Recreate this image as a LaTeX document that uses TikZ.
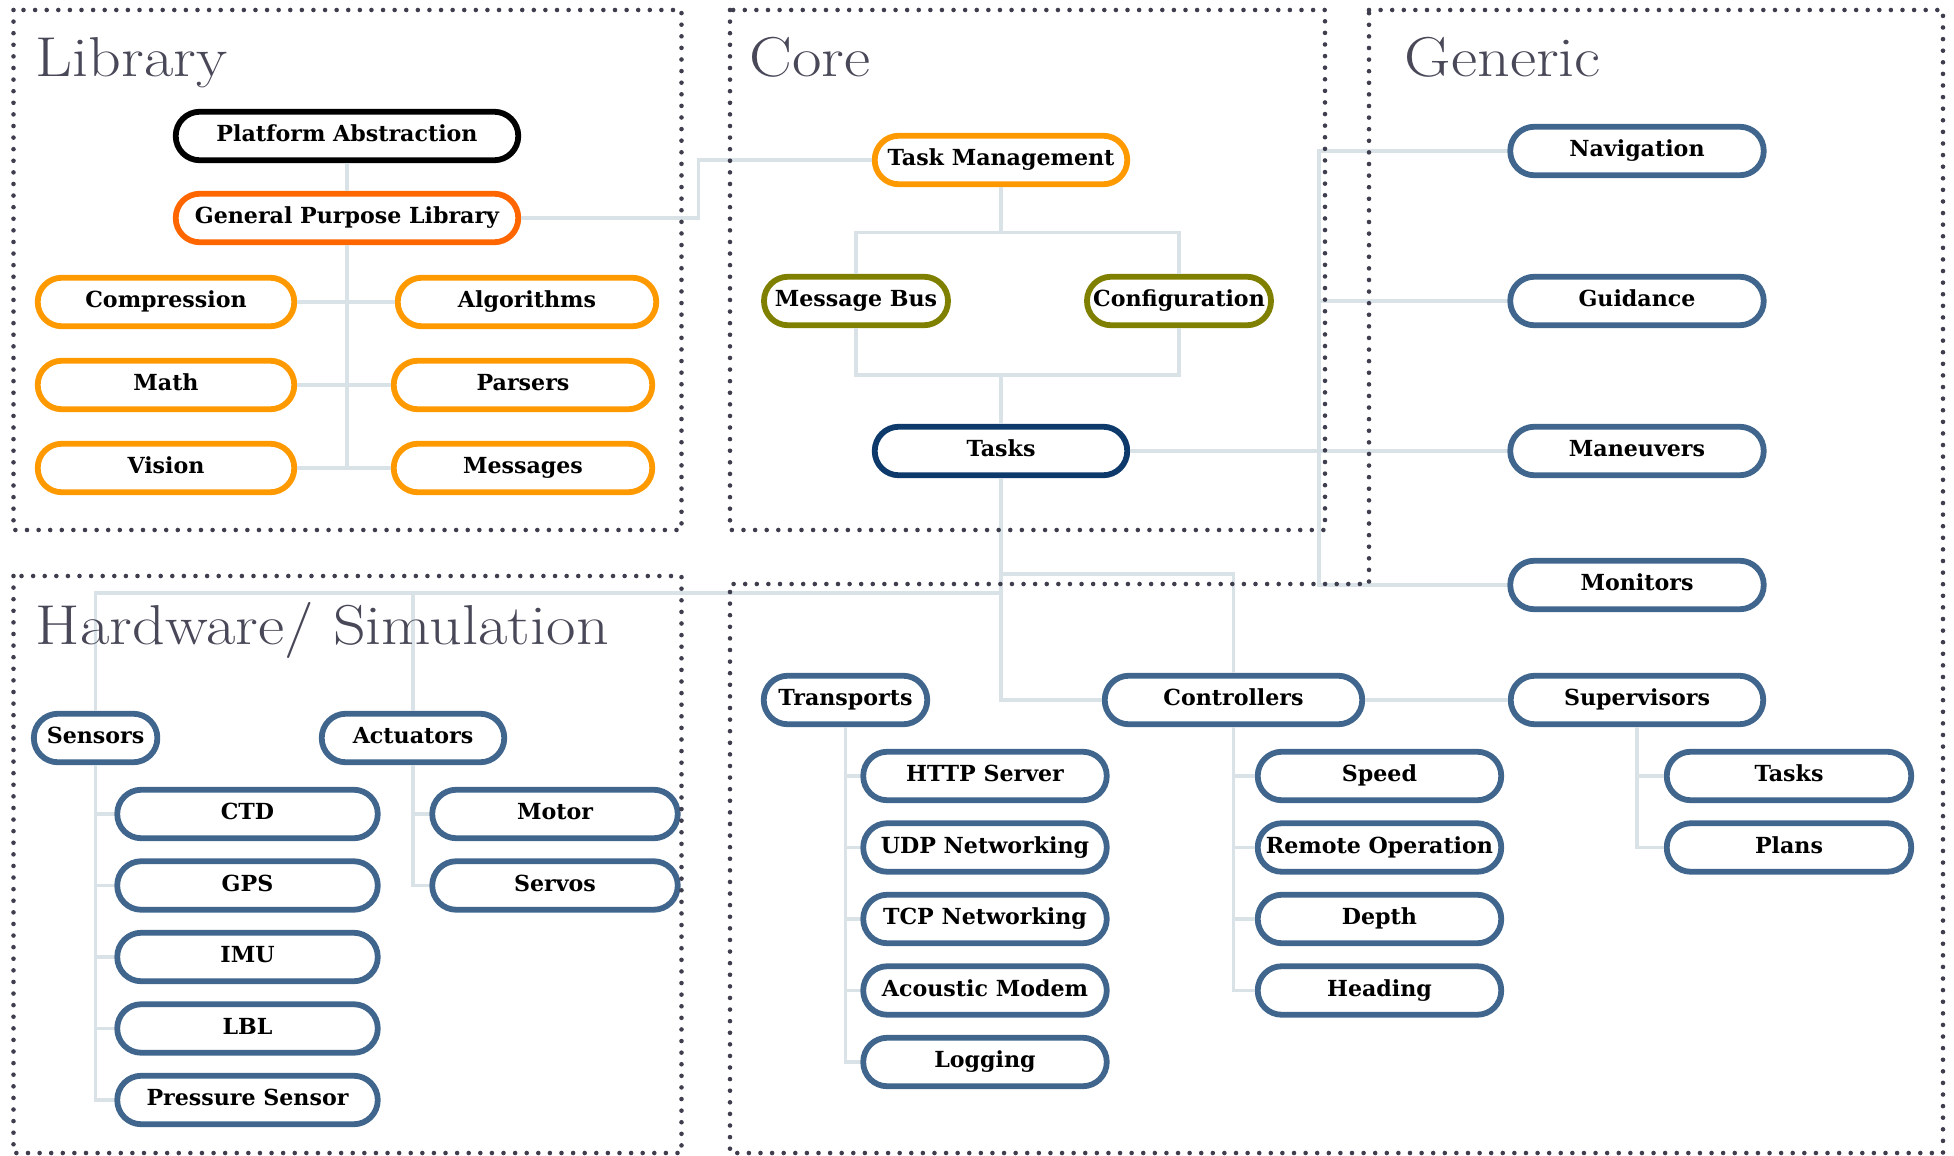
\documentclass[tikz,border=0pt]{standalone}
\usepackage{fontspec}
\newfontfamily\boxfont{DejaVu Serif}
\newfontfamily\titlefont{lmroman17-regular.otf}[FakeStretch=1.14]
\definecolor{myorange}{RGB}{255,153,0}
\definecolor{myredorange}{RGB}{255,102,0}
\definecolor{myolive}{RGB}{128,128,0}
\definecolor{mynavy}{RGB}{14,57,107}
\definecolor{myblue}{RGB}{64,102,142}
\definecolor{mylink}{RGB}{216,226,231}
\definecolor{mydots}{RGB}{62,62,78}
\definecolor{mytitle}{RGB}{72,72,88}
\newcommand{\modfont}{\boxfont\bfseries\fontsize{6.3}{7.5}\selectfont}
\tikzset{
  module/.style={
    draw,
    rectangle,
    rounded corners=2.4mm,
    line width=1.65pt,
    fill=white,
    minimum height=4.85mm,
    inner xsep=1pt,
    inner ysep=0pt,
    text height=1.6mm,
    text depth=0.45mm,
    font=\modfont
  },
  libmodule/.style={
    module,
    draw=myorange
  },
  genmodule/.style={
    module,
    draw=myblue
  },
  link/.style={
    draw=mylink,
    line width=0.9pt
  },
  region/.style={
    draw=mydots,
    line width=1.3pt,
    dash pattern=on 0pt off 3.3pt,
    line cap=round
  },
  regiontitle/.style={
    anchor=base west,
    inner sep=0pt,
    text=mytitle,
    font=\titlefont\fontsize{16}{18}\selectfont
  }
}

\begin{document}
\begin{tikzpicture}[x=0.1mm,y=-0.1mm]
\useasboundingbox (0,0) rectangle (1954,1156);

% library
\node[module, draw=black, minimum width=34.25mm] (platform) at (347,136) {Platform Abstraction};
\node[module, draw=myredorange, minimum width=34.25mm] (gpl) at (347,218) {General Purpose Library};
\node[libmodule, minimum width=25.65mm] (compression) at (166,302) {Compression};
\node[libmodule, minimum width=25.85mm] (algorithms) at (527,302) {Algorithms};
\node[libmodule, minimum width=25.65mm] (math) at (166,385) {Math};
\node[libmodule, minimum width=25.85mm] (parsers) at (523,385) {Parsers};
\node[libmodule, minimum width=25.65mm] (vision) at (166,468) {Vision};
\node[libmodule, minimum width=25.85mm] (messages) at (523,468) {Messages};

% core
\node[module, draw=myorange, minimum width=25.25mm] (taskmgmt) at (1001,160) {Task Management};
\node[module, draw=myolive, minimum width=18.4mm] (msgbus) at (856,301) {Message Bus};
\node[module, draw=myolive, minimum width=18.4mm] (config) at (1179,301) {Configuration};
\node[module, draw=mynavy, minimum width=25.25mm] (tasks) at (1001,451) {Tasks};

% generic
\node[genmodule, minimum width=25.35mm] (nav) at (1637,151) {Navigation};
\node[genmodule, minimum width=25.35mm] (guid) at (1637,301) {Guidance};
\node[genmodule, minimum width=25.35mm] (maneuv) at (1637,451) {Maneuvers};
\node[genmodule, minimum width=25.35mm] (monit) at (1637,585) {Monitors};

\node[genmodule, minimum width=16.35mm] (transp) at (845.5,700) {Transports};
\node[genmodule, minimum width=25.75mm] (ctrl) at (1233.5,700) {Controllers};
\node[genmodule, minimum width=25.25mm] (superv) at (1637,700) {Supervisors};

\node[genmodule, minimum width=24.35mm] (http) at (985,776) {HTTP Server};
\node[genmodule, minimum width=24.35mm] (udp) at (985,847.5) {UDP Networking};
\node[genmodule, minimum width=24.35mm] (tcp) at (985,919) {TCP Networking};
\node[genmodule, minimum width=24.35mm] (acoustic) at (985,990.5) {Acoustic Modem};
\node[genmodule, minimum width=24.35mm] (logging) at (985,1062) {Logging};

\node[genmodule, minimum width=24.35mm] (speed) at (1379.5,776) {Speed};
\node[genmodule, minimum width=24.35mm] (remote) at (1379.5,847.5) {Remote Operation};
\node[genmodule, minimum width=24.35mm] (depth) at (1379.5,919) {Depth};
\node[genmodule, minimum width=24.35mm] (heading) at (1379.5,990.5) {Heading};

\node[genmodule, minimum width=24.45mm] (stasks) at (1789,776) {Tasks};
\node[genmodule, minimum width=24.45mm] (plans) at (1789,847.5) {Plans};

% hardware / simulation
\node[genmodule, minimum width=12.35mm] (sensors) at (95.6,738) {Sensors};
\node[genmodule, minimum width=18.25mm] (actuators) at (413,738) {Actuators};
\node[genmodule, minimum width=26.05mm] (ctd) at (247.5,814) {CTD};
\node[genmodule, minimum width=26.05mm] (gps) at (247.5,885.5) {GPS};
\node[genmodule, minimum width=26.05mm] (imu) at (247.5,957) {IMU};
\node[genmodule, minimum width=26.05mm] (lbl) at (247.5,1028.5) {LBL};
\node[genmodule, minimum width=26.05mm] (pressure) at (247.5,1100) {Pressure Sensor};
\node[genmodule, minimum width=24.55mm] (motor) at (555,814) {Motor};
\node[genmodule, minimum width=24.55mm] (servos) at (555,885.5) {Servos};

% links
\draw[link] (platform.south) -- (gpl.north);
\draw[link] (gpl.south) -- (gpl.south |- vision.east);
\draw[link] (compression.east) -- (algorithms.west);
\draw[link] (math.east) -- (parsers.west);
\draw[link] (vision.east) -- (messages.west);
\draw[link] (gpl.east) -- ++(177,0) |- (taskmgmt.west);

\draw[link] (taskmgmt.south) -- ++(0,45) coordinate (tmsplit) -| (msgbus.north);
\draw[link] (tmsplit) -| (config.north);
\coordinate (tmerge) at (1001,375);
\draw[link] (msgbus.south) |- (tmerge) -| (config.south);
\draw[link] (tmerge) -- (tasks.north);

\coordinate (genbus) at (1319,0);
\coordinate (ctrlbus) at (0,574);
\coordinate (hwbus) at (0,593);
\draw[link] (nav.west) -| (genbus |- monit.west) -- (monit.west);
\draw[link] (guid.west) -- (guid.west -| genbus);
\draw[link] (tasks.east) -- (maneuv.west);
\draw[link] (tasks.south) |- (ctrl.west);
\draw[link] (tasks.south |- ctrlbus) -| (ctrl.north);
\draw[link] (sensors.north) |- (tasks.south |- hwbus);
\draw[link] (actuators.north) |- (tasks.south |- hwbus);
\draw[link] (ctrl.east) -- (superv.west);

\draw[link] (transp.south) |- (logging.west);
\draw[link] (transp.south |- http.west) -- (http.west);
\draw[link] (transp.south |- udp.west) -- (udp.west);
\draw[link] (transp.south |- tcp.west) -- (tcp.west);
\draw[link] (transp.south |- acoustic.west) -- (acoustic.west);

\draw[link] (ctrl.south) |- (heading.west);
\draw[link] (ctrl.south |- speed.west) -- (speed.west);
\draw[link] (ctrl.south |- remote.west) -- (remote.west);
\draw[link] (ctrl.south |- depth.west) -- (depth.west);

\draw[link] (superv.south) |- (plans.west);
\draw[link] (superv.south |- stasks.west) -- (stasks.west);

\draw[link] (sensors.south) |- (pressure.west);
\draw[link] (sensors.south |- ctd.west) -- (ctd.west);
\draw[link] (sensors.south |- gps.west) -- (gps.west);
\draw[link] (sensors.south |- imu.west) -- (imu.west);
\draw[link] (sensors.south |- lbl.west) -- (lbl.west);

\draw[link] (actuators.south) |- (servos.west);
\draw[link] (actuators.south |- motor.west) -- (motor.west);

% regions
\draw[region] (13.5,10) rectangle (681.5,530);
\draw[region] (730,10) rectangle (1325,530);
\draw[region] (13.5,576) rectangle (681.5,1153);
\draw[region] (1369,10) -- (1943,10) -- (1943,1153) -- (730,1153)
  -- (730,584) -- (1369,584) -- cycle;

\node[regiontitle] (libtitle) at (35,76) {Library};
\node[regiontitle] (coretitle) at (749,76) {Core};
\node[regiontitle] (gentitle) at (1404,76) {Generic};
\node[regiontitle] (hwtitle) at (35,644) {Hardware/ Simulation};

\end{tikzpicture}
\end{document}
